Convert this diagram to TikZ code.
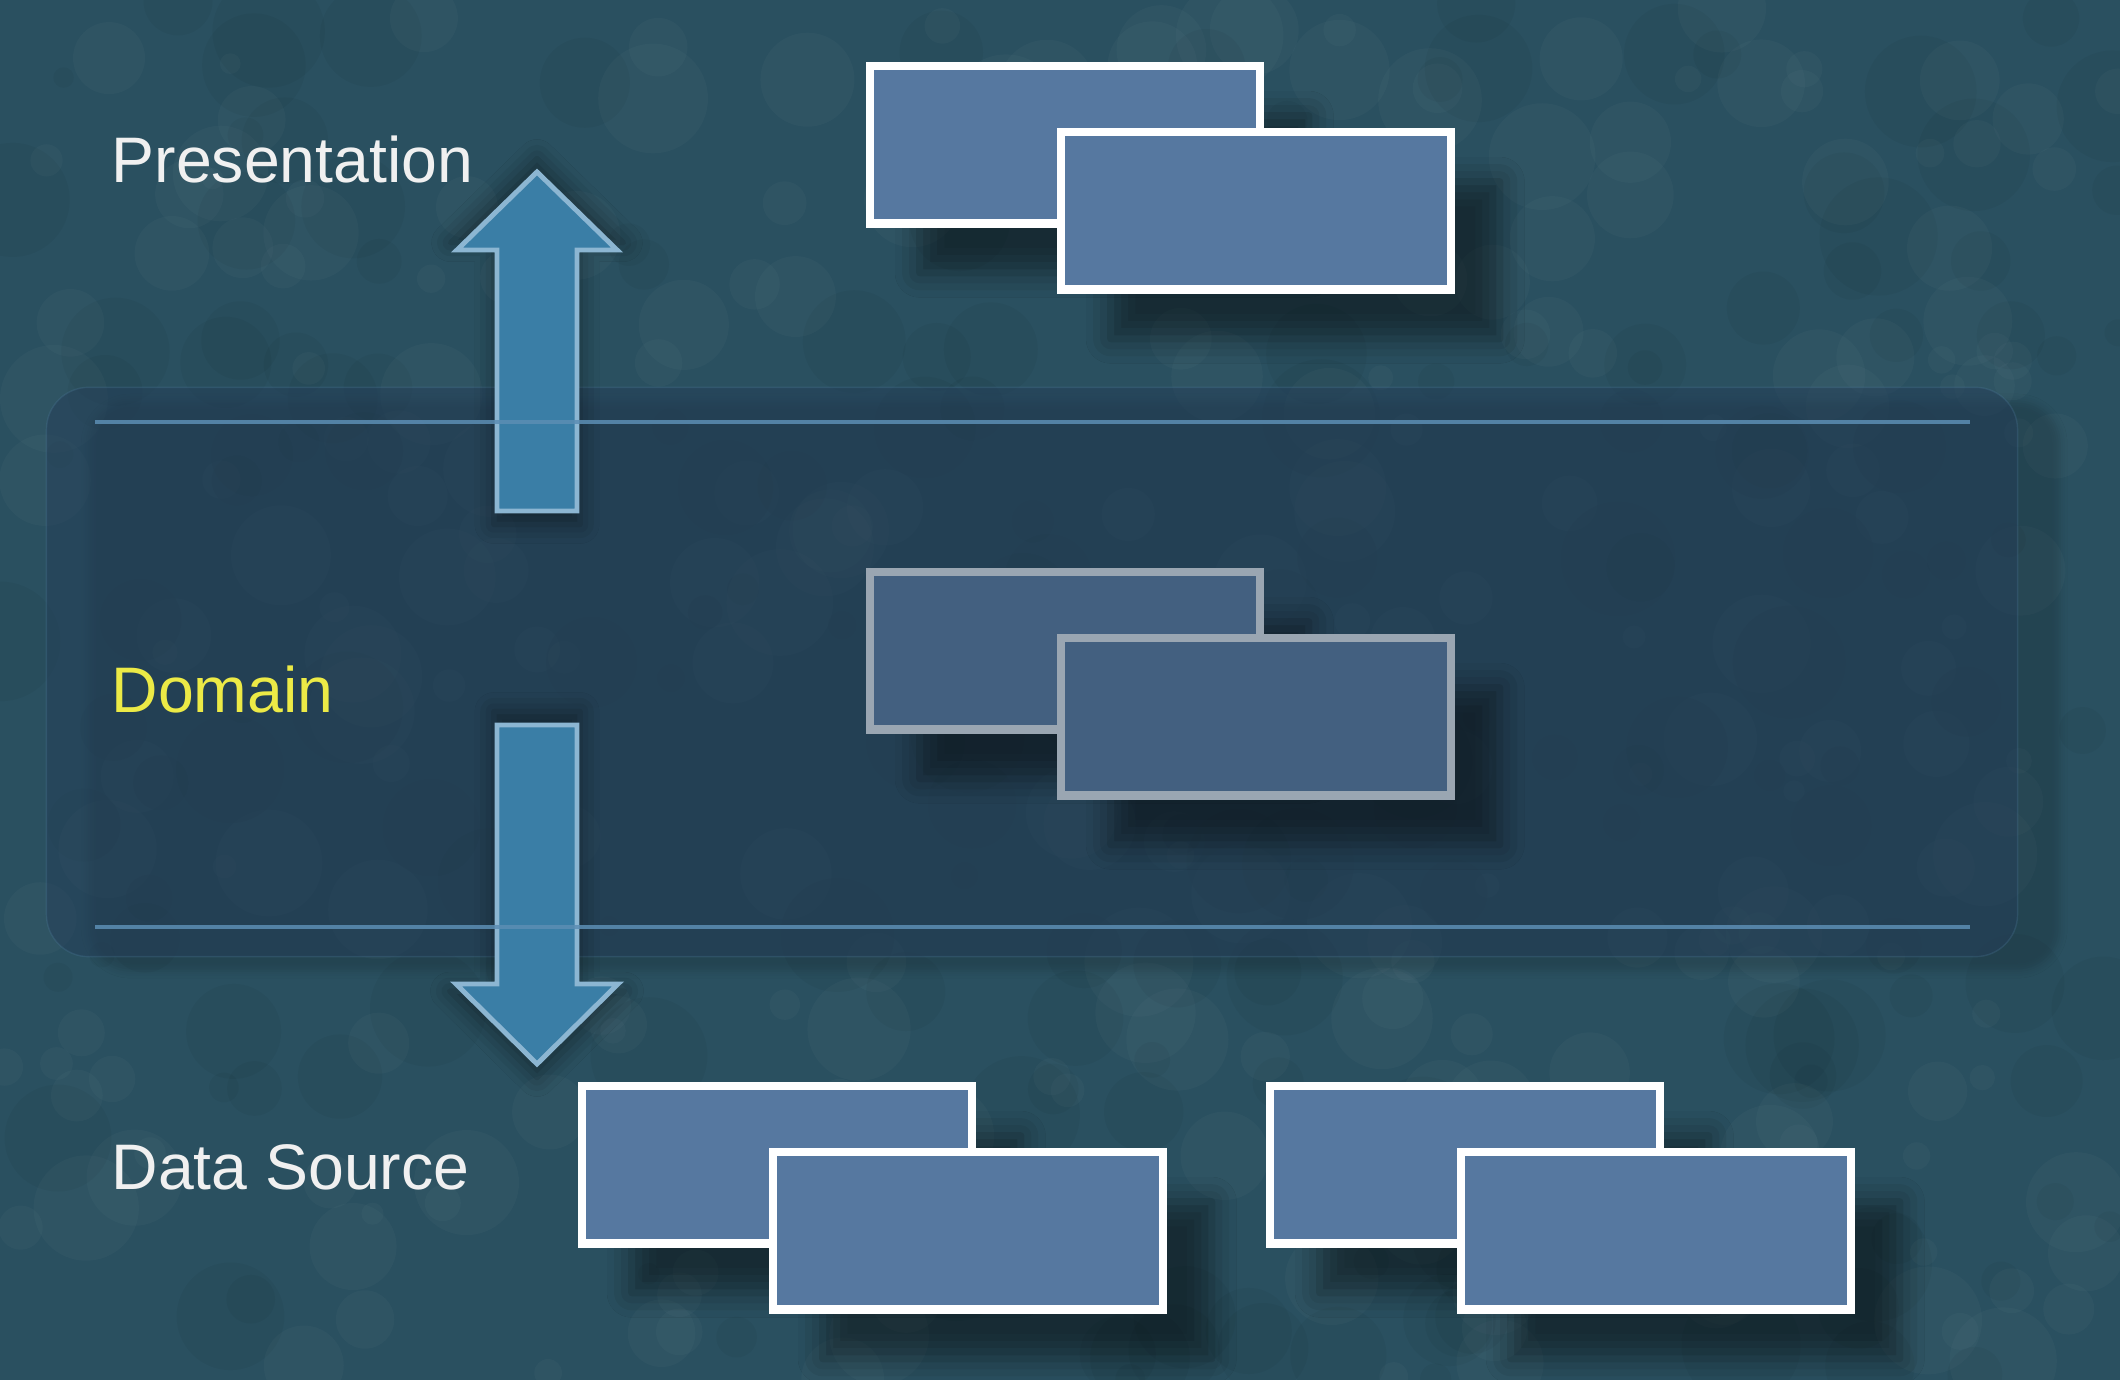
\documentclass[tikz,border=0pt]{standalone}
\usepackage{fontspec}
\setmainfont{Liberation Sans}
\usetikzlibrary{shadows.blur}

\definecolor{bgteal}{RGB}{42,80,96}
\definecolor{bandblue}{RGB}{36,62,88}
\definecolor{bandline}{RGB}{92,142,180}
\definecolor{boxfill}{RGB}{86,120,160}
\definecolor{boxfilldim}{RGB}{67,96,128}
\definecolor{boxrimdim}{RGB}{154,166,178}
\definecolor{arrowfill}{RGB}{58,126,166}
\definecolor{arrowrim}{RGB}{140,182,210}
\definecolor{arrowglow}{RGB}{36,84,130}
\definecolor{domainyellow}{RGB}{236,234,70}

\tikzset{
  layer/.style={font=\fontsize{18.3}{22}\selectfont,text=white!94!black,
    anchor=base west,inner sep=0pt},
  unit/.style={draw=white,fill=boxfill,line width=2.3pt,
    minimum width=3.89cm,minimum height=1.57cm,inner sep=0pt,
    blur shadow={shadow xshift=14pt,shadow yshift=-14pt,
      shadow opacity=45,shadow blur radius=7pt}},
  dimunit/.style={unit,draw=boxrimdim,fill=boxfilldim},
  blockarrow/.style={fill=arrowfill,draw=arrowrim,line width=1.4pt,
    blur shadow={shadow xshift=0pt,shadow yshift=0pt,shadow scale=1.08,
      shadow opacity=40,shadow blur radius=5pt}},
}

\begin{document}
\begin{tikzpicture}[x=0.01cm,y=-0.01cm]
\useasboundingbox (0,0) rectangle (2120,1380);

% background
\fill[bgteal] (0,0) rectangle (2120,1380);
\pgfmathsetseed{17}
\foreach \i in {1,...,260}{
	\pgfmathsetmacro{\bx}{rnd*2120}
	\pgfmathsetmacro{\by}{rnd*1380}
	\pgfmathsetmacro{\br}{10+rnd*45}
	\fill[white,opacity=0.025] (\bx,\by) circle[radius=\br];
}
\foreach \i in {1,...,200}{
	\pgfmathsetmacro{\bx}{rnd*2120}
	\pgfmathsetmacro{\by}{rnd*1380}
	\pgfmathsetmacro{\br}{10+rnd*50}
	\fill[black,opacity=0.035] (\bx,\by) circle[radius=\br];
}

% domain band
\node[fill=bandblue,fill opacity=0.5,draw=bandline,draw opacity=0.2,
	rounded corners=12pt,minimum width=19.7cm,minimum height=5.69cm,
	blur shadow={shadow xshift=12pt,shadow yshift=-4pt,shadow opacity=30}]
	(band) at (1032,672) {};

% arrows
\path[blockarrow] (537,172) -- (617,250) -- (577,250) -- (577,511)
	-- (497,511) -- (497,250) -- (457,250) -- cycle;
\path[blockarrow] (497,725) -- (577,725) -- (577,984) -- (618,984)
	-- (537,1064) -- (456,984) -- (497,984) -- cycle;

\draw[bandline,line width=0.9pt,opacity=0.85] (95,422) -- (1970,422);
\draw[bandline,line width=0.9pt,opacity=0.85] (95,927) -- (1970,927);

% layer names
\node[layer] (presentation) at (111,183) {Presentation};
\node[layer,text=domainyellow] (domain) at (111,713) {Domain};
\node[layer] (datasource) at (111,1190) {Data Source};

% boxes
\foreach \nm/\x/\y/\st in {pres/1065/145/unit, dom/1065/651/dimunit,
	dsa/777/1165/unit, dsb/1465/1165/unit}{
	\node[\st] (\nm back) at (\x,\y) {};
	\node[\st] (\nm front) at (\x+191,\y+66) {};
}

\end{tikzpicture}
\end{document}
